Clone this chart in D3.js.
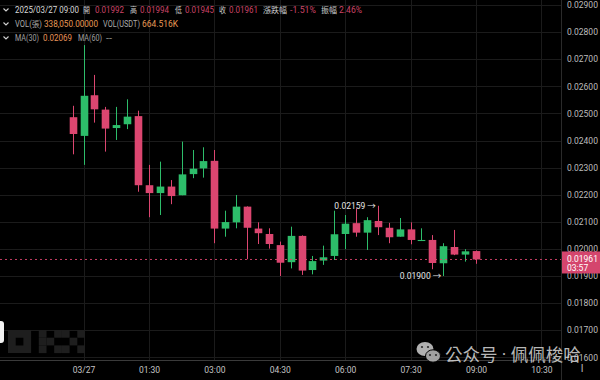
<!DOCTYPE html>
<html><head><meta charset="utf-8">
<script src="https://cdn.jsdelivr.net/npm/d3@7"></script>
<style>
html,body{margin:0;padding:0;background:#000;}
svg{display:block;}
text{font-family:Roboto,"Noto Sans","Noto Sans CJK TC",sans-serif;}
</style></head>
<body>
<svg id="c" width="600" height="380"></svg>
<script>
// ---- data (15-minute candles, first candle 2025-03-26 23:45) ----
const candleStart = "2025-03-26T23:45:00Z";
const opens  = [0.02486,0.02417,0.02567,0.02514,0.02446,0.02460,0.02490,0.02235,0.02206,0.02230,
                0.02198,0.02276,0.02297,0.02325,0.02075,0.02098,0.02156,0.02075,0.02055,0.02014,
                0.01951,0.02048,0.01922,0.01957,0.01974,0.02055,0.02095,0.02060,0.02103,0.02078,
                0.02045,0.02072,0.02029,0.02033,0.01947,0.02007,0.01979,0.01992];
const highs  = [0.02528,0.02752,0.02642,0.02524,0.02524,0.02552,0.02510,0.02310,0.02322,0.02254,
                0.02396,0.02365,0.02375,0.02365,0.02141,0.02199,0.02157,0.02098,0.02076,0.02027,
                0.02082,0.02050,0.01974,0.02012,0.02141,0.02125,0.02150,0.02117,0.02159,0.02096,
                0.02114,0.02098,0.02076,0.02051,0.02021,0.02070,0.01999,0.01994];
const lows   = [0.02349,0.02310,0.02466,0.02359,0.02402,0.02442,0.02211,0.02117,0.02125,0.02165,
                0.02198,0.02261,0.02263,0.02021,0.02045,0.02076,0.01962,0.02018,0.02001,0.01900,
                0.01928,0.01904,0.01906,0.01941,0.01959,0.01999,0.02045,0.01996,0.02051,0.02021,
                0.02045,0.02017,0.02029,0.01925,0.01900,0.01977,0.01953,0.01945];
const closes = [0.02424,0.02565,0.02515,0.02444,0.02457,0.02488,0.02235,0.02206,0.02230,0.02195,
                0.02275,0.02296,0.02324,0.02075,0.02099,0.02156,0.02078,0.02058,0.02018,0.01949,
                0.02048,0.01920,0.01955,0.01969,0.02054,0.02093,0.02060,0.02106,0.02080,0.02043,
                0.02072,0.02033,0.02033,0.01948,0.02010,0.01979,0.01991,0.01961];
const priceTicks = [0.016,0.017,0.018,0.019,0.020,0.021,0.022,0.023,0.024,0.025,0.026,0.027,0.028,0.029];
const timeTickLabels = ["03/27","01:30","03:00","04:30","06:00","07:30","09:00","10:30"];
const highMark = {index:28, value:0.02159};
const lowMark  = {index:34, value:0.01900};
const lastPrice = 0.01961, countdown = "03:57";
const header1 = [["2025/03/27 09:00","#d8d8d8"],["開","#c8c8c8"],["0.01992","#cc4467"],["高","#c8c8c8"],["0.01994","#cc4467"],
                 ["低","#c8c8c8"],["0.01945","#cc4467"],["收","#c8c8c8"],["0.01961","#cc4467"],["漲跌幅","#c8c8c8"],
                 ["-1.51%","#cc4467"],["振幅","#c8c8c8"],["2.46%","#cc4467"]];
const header2 = [["VOL(張)","#a8a8a8"],["338,050.00000","#e89a55"],["VOL(USDT)","#a8a8a8"],["664.516K","#e89a55"]];
const header3 = [["MA(30)","#a0a0a0"],["0.02069","#e8955a"],["MA(60)","#a0a0a0"],["--","#a0a0a0"]];

// ---- layout ----
const W = 600, H = 380, plotR = 561, plotB = 360;
const RED = "#dc4670", GREEN = "#2dbd6a";
const svg = d3.select("#c");
svg.append("rect").attr("width",W).attr("height",H).attr("fill","#000");

const t0 = new Date(candleStart);
const times = opens.map((d,i)=> d3.utcMinute.offset(t0, 15*i));
const day0 = new Date("2025-03-27T00:00:00Z");
const pxPerMin = 10.91/15;
const x = d3.scaleUtc()
  .domain([d3.utcMinute.offset(day0, -83/pxPerMin), d3.utcMinute.offset(day0, (plotR-83)/pxPerMin)])
  .range([0, plotR]);
const y = d3.scaleLinear().domain([0.016,0.029]).range([357.3,5]);

const tickTimes = timeTickLabels.map((l,i)=> d3.utcMinute.offset(day0, 90*i));

// grid
const grid = svg.append("g").attr("stroke","#1b1b1b").attr("stroke-width",1);
grid.selectAll("line.h").data(priceTicks).join("line")
  .attr("x1",0).attr("x2",plotR).attr("y1",d=>Math.round(y(d))+0.5).attr("y2",d=>Math.round(y(d))+0.5);
grid.selectAll("line.v").data(tickTimes).join("line")
  .attr("y1",0).attr("y2",plotB).attr("x1",d=>Math.round(x(d))+0.5).attr("x2",d=>Math.round(x(d))+0.5);

// OKX logo watermark (decorative)
const logo = svg.append("g").attr("fill","#1e1e1e");
const cs = 7.7, lx = 8, ly = 330;
logo.append("path").attr("fill-rule","evenodd")
  .attr("d",`M${lx},${ly}h${3*cs}v${3*cs}h${-3*cs}z M${lx+cs},${ly+cs}h${cs}v${cs}h${-cs}z`);
[[4,0],[4,1],[4,2],[5,1],[6,0],[6,2],[7,0],[9,0],[8,1],[7,2],[9,2]].forEach(([c,r])=>{
  logo.append("rect").attr("x",lx+c*cs).attr("y",ly+r*cs).attr("width",cs).attr("height",cs);
});
// left tab
svg.append("rect").attr("x",-6).attr("y",321).attr("width",10).attr("height",22).attr("rx",3).attr("fill","#f2f2f2");

// axes separators
svg.append("line").attr("x1",0).attr("x2",plotR).attr("y1",plotB+0.5).attr("y2",plotB+0.5).attr("stroke","#3a3a3a");
svg.append("line").attr("x1",plotR+0.5).attr("x2",plotR+0.5).attr("y1",0).attr("y2",H).attr("stroke","#2a2a2a");

// y axis labels
const yAxis = d3.axisRight(y).tickValues(priceTicks).tickSize(0).tickPadding(0).tickFormat(d3.format(".5f"));
const ya = svg.append("g").attr("transform",`translate(567,0)`).call(yAxis);
ya.select(".domain").remove();
ya.selectAll("text").attr("fill","#bdbdbd").attr("font-size","8.5px").attr("dy","0.32em");

// x axis labels
const xAxis = d3.axisBottom(x).tickValues(tickTimes).tickSize(0).tickPadding(0)
  .tickFormat((d,i)=>timeTickLabels[i]);
const xa = svg.append("g").attr("transform",`translate(0,${plotB})`).call(xAxis);
xa.select(".domain").remove();
xa.selectAll("text").attr("fill","#c4c4c4").attr("font-size","8.5px").attr("dy","1.55em");

// candles
const bw = 7.6;
const cg = svg.append("g");
const cd = opens.map((o,i)=>({t:times[i],o,h:highs[i],l:lows[i],c:closes[i]}));
cg.selectAll("line.w").data(cd).join("line")
  .attr("x1",d=>Math.round(x(d.t))+0.5).attr("x2",d=>Math.round(x(d.t))+0.5)
  .attr("y1",d=>y(d.h)).attr("y2",d=>y(d.l))
  .attr("stroke",d=>d.c>=d.o?GREEN:RED).attr("stroke-width",1);
cg.selectAll("rect.b").data(cd).join("rect")
  .attr("x",d=>Math.round(x(d.t))+0.5-bw/2).attr("width",bw)
  .attr("y",d=>y(Math.max(d.o,d.c))).attr("height",d=>Math.max(1,Math.abs(y(d.o)-y(d.c))))
  .attr("fill",d=>d.c>=d.o?GREEN:RED);

// last price dashed line
svg.append("line").attr("x1",0).attr("x2",plotR).attr("y1",y(lastPrice)).attr("y2",y(lastPrice))
  .attr("stroke",RED).attr("stroke-width",1).attr("stroke-dasharray","2,3").attr("opacity",0.9);

// high / low annotations
[highMark,lowMark].forEach(m=>{
  svg.append("text").attr("x",x(times[m.index])-2).attr("y",y(m.value)).attr("dy","0.32em")
    .attr("text-anchor","end").attr("fill","#e6e6e6").attr("font-size","8.5px")
    .text(d3.format(".5f")(m.value)+" →");
});

// price tag
const ty = y(lastPrice);
svg.append("rect").attr("x",562).attr("y",ty-8).attr("width",38).attr("height",22).attr("fill","#d4456d");
svg.append("text").attr("x",567).attr("y",ty).attr("dy","0.32em").attr("fill","#fff").attr("font-size","8.5px").text(d3.format(".5f")(lastPrice));
svg.append("text").attr("x",567).attr("y",ty+9).attr("dy","0.32em").attr("fill","#fff").attr("font-size","8.5px").text(countdown);

// header
function chevron(yc){
  svg.append("path").attr("d",`M3.5,${yc-1.5}L6,${yc+1}L8.5,${yc-1.5}`).attr("fill","none").attr("stroke","#d0d0d0").attr("stroke-width",1.1);
}
function headerLine(items, xs, ws, yc){
  chevron(yc);
  items.forEach(([t,c],i)=>{
    svg.append("text").attr("x",xs[i]).attr("y",yc).attr("dy","0.35em").attr("fill",c)
      .attr("font-size","8.2px").attr("font-family",'Roboto,"Noto Sans CJK TC",sans-serif')
      .attr("textLength",ws[i]).attr("lengthAdjust","spacingAndGlyphs").text(t);
  });
}
headerLine(header1,[15,83,95,130,140,175,185,219,229,263,290,321,339],
                   [64,7,29,7,29,7,29,7,29,24,26,16,23],10);
headerLine(header2,[15,44,103,142],[27,54,37,36],24);
headerLine(header3,[15,43,78,106],[24,29,24,6],38);

// watermark
const wm = svg.append("g").attr("opacity",0.85);
wm.append("ellipse").attr("cx",425).attr("cy",349).attr("rx",8.5).attr("ry",7).attr("fill","#cfcfcf");
wm.append("ellipse").attr("cx",433).attr("cy",356).attr("rx",7.5).attr("ry",6.2).attr("fill","#bdbdbd").attr("stroke","#000").attr("stroke-width",1);
[[422,347],[428,347],[430,355],[436,355]].forEach(([a,b])=>wm.append("circle").attr("cx",a).attr("cy",b).attr("r",1.1).attr("fill","#333"));
wm.append("text").attr("x",445).attr("y",361).attr("fill","#d8d8d8").attr("font-size","17.5px")
  .attr("font-family",'"Noto Sans CJK SC",sans-serif').text("公众号 · 佩佩梭哈");

// cursor glyph
svg.append("text").attr("x",582).attr("y",372).attr("text-anchor","middle").attr("fill","#bbb")
  .attr("font-size","10px").attr("font-family","DejaVu Serif").text("I");
</script>
</body></html>
